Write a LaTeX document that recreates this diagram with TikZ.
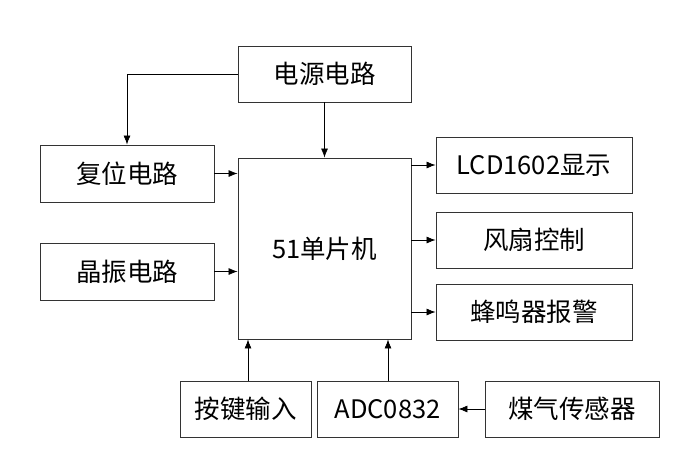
\documentclass[tikz,border=0pt]{standalone}
\usepackage{fontspec}
\setmainfont{Noto Sans CJK SC}
\usetikzlibrary{arrows.meta}
\begin{document}
\begin{tikzpicture}[x=1pt,y=-1pt,
  blk/.style={draw=black!80,line width=0.9pt,inner sep=0pt,font=\fontsize{25.5}{27}\selectfont},
  arr/.style={line width=0.7pt,-{Latex[length=9pt,width=7pt]}}]
\useasboundingbox[fill=white] (0,0) rectangle (692,464);
\node[blk,minimum width=173pt,minimum height=56pt] (pwr) at (324.5,74) {电源电路};
\node[blk,minimum width=174pt,minimum height=57pt] (rst) at (127,173.5) {复位电路};
\node[blk,minimum width=174pt,minimum height=57pt] (osc) at (127,271.5) {晶振电路};
\node[blk,minimum width=173pt,minimum height=181pt] (mcu) at (324.5,248.5) {51单片机};
\node[blk,minimum width=196pt,minimum height=56pt] (lcd) at (534,165) {LCD1602显示};
\node[blk,minimum width=196pt,minimum height=56pt] (fan) at (534,240) {风扇控制};
\node[blk,minimum width=196pt,minimum height=56pt] (buz) at (534,312) {蜂鸣器报警};
\node[blk,minimum width=131pt,minimum height=56pt] (key) at (245.5,409) {按键输入};
\node[blk,minimum width=141pt,minimum height=56pt] (adc) at (387.5,409) {ADC0832};
\node[blk,minimum width=174pt,minimum height=56pt] (gas) at (572,409) {煤气传感器};
\draw[arr] (pwr.west) -| (rst.north);
\draw[arr] (pwr.south) -- (mcu.north);
\draw[arr] (rst.east) -- (rst.east -| mcu.west);
\draw[arr] (osc.east) -- (osc.east -| mcu.west);
\draw[arr] (lcd.west -| mcu.east) -- (lcd.west);
\draw[arr] (fan.west -| mcu.east) -- (fan.west);
\draw[arr] (buz.west -| mcu.east) -- (buz.west);
\draw[arr] (key.north -| 248,0) -- (mcu.south -| 248,0);
\draw[arr] (adc.north -| 388,0) -- (mcu.south -| 388,0);
\draw[arr] (gas.west) -- (adc.east);
\end{tikzpicture}
\end{document}
